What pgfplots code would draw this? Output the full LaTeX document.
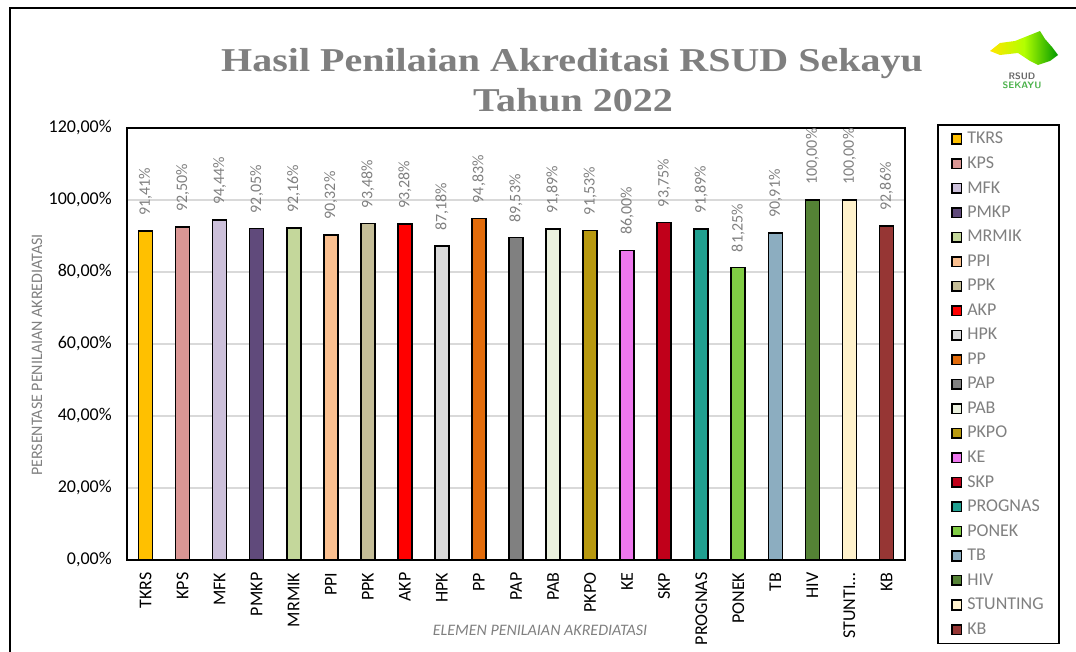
\documentclass[border=0pt]{standalone}
\usepackage{pgfplots}
\pgfplotsset{compat=1.18}
\usepackage{fontspec}
\setmainfont{Carlito}
\newfontfamily\titlefont[FakeStretch=1.2]{Liberation Serif}
\definecolor{titlegray}{HTML}{7F7F7F}
\definecolor{txtgray}{HTML}{808080}
\definecolor{gridgray}{HTML}{D9D9D9}
\definecolor{cTKRS}{HTML}{FFC000}
\definecolor{cKPS}{HTML}{DA9694}
\definecolor{cMFK}{HTML}{CCC0DA}
\definecolor{cPMKP}{HTML}{604A7B}
\definecolor{cMRMIK}{HTML}{C4D79B}
\definecolor{cPPI}{HTML}{FABF8F}
\definecolor{cPPK}{HTML}{C4BD97}
\definecolor{cAKP}{HTML}{FF0000}
\definecolor{cHPK}{HTML}{D9D9D9}
\definecolor{cPP}{HTML}{E26B0A}
\definecolor{cPAP}{HTML}{808080}
\definecolor{cPAB}{HTML}{EBF1DE}
\definecolor{cPKPO}{HTML}{B8990F}
\definecolor{cKE}{HTML}{EE77EE}
\definecolor{cSKP}{HTML}{C0001A}
\definecolor{cPROGNAS}{HTML}{20A090}
\definecolor{cPONEK}{HTML}{80CC44}
\definecolor{cTB}{HTML}{8CADC0}
\definecolor{cHIV}{HTML}{548235}
\definecolor{cSTUNTING}{HTML}{FFF2CC}
\definecolor{cKB}{HTML}{963634}
\begin{document}
\begin{tikzpicture}[x=0.75pt,y=0.75pt]
\useasboundingbox (0,0) rectangle (1076,651);
\draw[line width=1.5pt] (10,-5) -- (10,643) -- (1085,643);
\node[font=\titlefont\bfseries\fontsize{25}{30}\selectfont, text=titlegray, anchor=base, inner sep=0] at (572,579) {Hasil Penilaian Akreditasi RSUD Sekayu};
\node[font=\titlefont\bfseries\fontsize{25}{30}\selectfont, text=titlegray, anchor=base, inner sep=0] at (573,539) {Tahun 2022};
% logo
\shade[left color=yellow!80!orange, right color=green!60!black, middle color=yellow!70!green] (990,600) -- (1000,608) -- (1015,610) -- (1030,616) -- (1040,620) -- (1045,612) -- (1052,604) -- (1058,596) -- (1050,590) -- (1038,586) -- (1030,590) -- (1018,598) -- (1000,596) -- cycle;
\node[font=\sffamily\bfseries\fontsize{7}{7}\selectfont, text=gray!80!black, inner sep=0] at (1022,575) {RSUD};
\node[font=\sffamily\bfseries\fontsize{7}{7}\selectfont, text=green!40!gray, inner sep=0] at (1022,566) {SEKAYU};
% axis labels
\node[rotate=90, font=\fontsize{12}{14}\selectfont, text=txtgray, inner sep=0] at (37,296) {PERSENTASE PENILAIAN AKREDIATASI};
\node[font=\itshape\fontsize{12}{14}\selectfont, text=txtgray, inner sep=0] at (540,21) {ELEMEN PENILAIAN AKREDIATASI};
\begin{axis}[
  at={(95.25pt,68.25pt)}, anchor=south west,
  scale only axis, width=583.5pt, height=324pt,
  ymin=0, ymax=120, xmin=-0.5, xmax=20.5,
  ybar, bar width=10.5pt,
  axis line style={line width=1.5pt, black},
  major tick length=0pt,
  ymajorgrids, grid style={gridgray, line width=0.9pt},
  ytick={0,20,40,60,80,100,120},
  yticklabels={{0,00\%},{20,00\%},{40,00\%},{60,00\%},{80,00\%},{100,00\%},{120,00\%}},
  yticklabel style={font=\fontsize{13.5}{16}\selectfont},
  yticklabel shift=8pt,
  xtick={0,1,2,3,4,5,6,7,8,9,10,11,12,13,14,15,16,17,18,19,20},
  xticklabels={TKRS,KPS,MFK,PMKP,MRMIK,PPI,PPK,AKP,HPK,PP,PAP,PAB,PKPO,KE,SKP,PROGNAS,PONEK,TB,HIV,{STUNTI\ldots},KB},
  xticklabel style={rotate=90, anchor=east, font=\fontsize{13.5}{16}\selectfont},
  xticklabel shift=6pt,
  nodes near coords,
  point meta=explicit symbolic,
  every node near coord/.append style={rotate=90, anchor=west, font=\fontsize{12}{14}\selectfont, text=txtgray, inner xsep=11pt},
  every axis plot/.append style={bar shift=0pt, draw=black, line width=1.2pt},
  area legend,
  legend style={at={(1.041,1.009)}, anchor=north west, draw=black, line width=1.2pt,
    font=\fontsize{13.5}{16}\selectfont, text=txtgray, row sep=5.2pt, inner xsep=10pt, inner ysep=4pt,
    nodes={inner sep=1.5pt}},
  legend cell align=left,
  legend image code/.code={\draw[#1, line width=1.2pt] (0pt,-3.6pt) rectangle (7.2pt,3.6pt); \path (9.5pt,0pt);},
  clip=false,
]
\addplot[fill=cTKRS] coordinates {(0,91.41) [91,41\%]};
\addplot[fill=cKPS] coordinates {(1,92.50) [92,50\%]};
\addplot[fill=cMFK] coordinates {(2,94.44) [94,44\%]};
\addplot[fill=cPMKP] coordinates {(3,92.05) [92,05\%]};
\addplot[fill=cMRMIK] coordinates {(4,92.16) [92,16\%]};
\addplot[fill=cPPI] coordinates {(5,90.32) [90,32\%]};
\addplot[fill=cPPK] coordinates {(6,93.48) [93,48\%]};
\addplot[fill=cAKP] coordinates {(7,93.28) [93,28\%]};
\addplot[fill=cHPK] coordinates {(8,87.18) [87,18\%]};
\addplot[fill=cPP] coordinates {(9,94.83) [94,83\%]};
\addplot[fill=cPAP] coordinates {(10,89.53) [89,53\%]};
\addplot[fill=cPAB] coordinates {(11,91.89) [91,89\%]};
\addplot[fill=cPKPO] coordinates {(12,91.53) [91,53\%]};
\addplot[fill=cKE] coordinates {(13,86.00) [86,00\%]};
\addplot[fill=cSKP] coordinates {(14,93.75) [93,75\%]};
\addplot[fill=cPROGNAS] coordinates {(15,91.89) [91,89\%]};
\addplot[fill=cPONEK] coordinates {(16,81.25) [81,25\%]};
\addplot[fill=cTB] coordinates {(17,90.91) [90,91\%]};
\addplot[fill=cHIV] coordinates {(18,100.00) [100,00\%]};
\addplot[fill=cSTUNTING] coordinates {(19,100.00) [100,00\%]};
\addplot[fill=cKB] coordinates {(20,92.86) [92,86\%]};
\legend{TKRS,KPS,MFK,PMKP,MRMIK,PPI,PPK,AKP,HPK,PP,PAP,PAB,PKPO,KE,SKP,PROGNAS,PONEK,TB,HIV,STUNTING,KB}
\end{axis}
\end{tikzpicture}
\end{document}
